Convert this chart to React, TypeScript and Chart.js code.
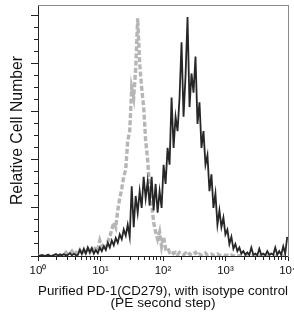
import React, { useEffect, useRef } from 'react';
import { Chart, registerables } from 'chart.js';

Chart.register(...registerables);

// Fluorescence intensity (PE) of each histogram channel
const intensity = [
  1.0, 1.076, 1.158, 1.246, 1.341, 1.443, 1.554, 1.672, 1.8, 1.937,
  2.084, 2.243, 2.414, 2.598, 2.796, 3.009, 3.239, 3.486, 3.752, 4.037,
  4.345, 4.676, 5.033, 5.417, 5.829, 6.274, 6.752, 7.267, 7.821, 8.417,
  9.058, 9.748, 10.49, 11.29, 12.15, 13.08, 14.07, 15.15, 16.3, 17.54,
  18.88, 20.32, 21.87, 23.53, 25.33, 27.26, 29.33, 31.57, 33.97, 36.56,
  39.35, 42.35, 45.57, 49.05, 52.78, 56.81, 61.14, 65.79, 70.81, 76.2,
  82.01, 88.26, 94.98, 102.2, 110.0, 118.4, 127.4, 137.1, 147.6, 158.9,
  171.0, 184.0, 198.0, 213.1, 229.4, 246.9, 265.7, 285.9, 307.7, 331.2,
  356.4, 383.6, 412.8, 444.3, 478.1, 514.5, 553.8, 596.0, 641.4, 690.3,
  742.9, 799.5, 860.4, 926.0, 996.8, 1073, 1154, 1243, 1337, 1439,
  1549, 1667, 1794, 1931, 2078, 2236, 2407, 2590, 2788, 3000,
  3229, 3475, 3740, 4025, 4332, 4662, 5017, 5400, 5811, 6254,
  6730, 7243, 7795, 8390, 9029, 9716,
];

// Purified PD-1 (CD279) stained cells, relative cell number
const pd1Stained = [
  0.3, 0, 0.4, 0.2, 0, 0.5, 0.2, 0, 0.4, 0.8,
  0.2, 0.6, 0.3, 0.8, 0.2, 0.5, 1.2, 0.3, 0.9, 0.4,
  0.5, 2.5, 0.8, 3, 1, 3.5, 1.5, 3.2, 1, 2.5,
  1.2, 3.5, 2, 4, 2.5, 5.5, 3.5, 6.5, 4.5, 7.5,
  5.5, 9, 7, 11, 8.5, 13, 8, 29, 12, 25,
  18, 27, 20, 33, 24, 31, 21, 33, 19, 30,
  18, 27, 20, 38, 30, 45, 38, 66, 45, 58,
  52, 66, 89, 58, 75, 99.5, 62, 76, 68, 83,
  55, 64, 45, 52, 38, 42, 27, 34, 20, 26,
  13, 19, 12, 16, 9, 11, 5, 8, 3, 5,
  2, 3.5, 1, 2, 0.5, 1.5, 0.5, 3.5, 0.5, 1,
  0.3, 3, 0.5, 1, 0.3, 2, 0.5, 1, 0.5, 3.5,
  0.5, 2, 0.5, 4, 1, 8,
];

// Isotype control, relative cell number
const isotypeControl = [
  0, 0.2, 0, 0.3, 0, 0.2, 0.5, 0.2, 0, 0.3,
  0.2, 0.5, 0.2, 0.5, 1.5, 0.5, 1, 2, 0.5, 1.5,
  1, 2.5, 1, 2, 1, 3, 1.5, 3, 2, 4,
  3, 6.5, 4, 5, 3.5, 6, 8, 11, 14, 12,
  19, 24, 28, 33, 36, 48, 52, 70, 66, 78,
  99, 80, 70, 62, 48, 40, 28, 22, 14, 10,
  7, 10, 4, 8, 3, 3.5, 1.5, 2, 1, 1.5,
  0.5, 1.5, 1, 0.5, 1.2, 0.4, 1, 0.3, 0.8, 1.5,
  0.3, 0.8, 0.2, 0.6, 1.2, 0.3, 0.5, 0.8, 0.2, 0.4,
  0.8, 0.2, 0.3, 0.6, 0.2, 0.3, 0.1, 0.4, 0, 0.2,
  0, 0.1, 0, 0.2, 0, 0, 0.1, 0, 0, 0.1,
  0, 0, 0.1, 0, 0, 0, 0, 0.1, 0, 0,
  0, 0, 0, 0, 0, 0,
];

const xDecades = [1, 10, 100, 1000, 10000];
const xDecadeLabels = ['10⁰', '10¹', '10²', '10³', '10⁴'];
const xMinorSteps = [1, 2, 3, 4, 5, 6, 7, 8, 9];
const yTickValues = [0, 5, 10, 15, 20, 25, 30, 35, 40, 45, 50, 55, 60, 65, 70, 75, 80, 85, 90, 95, 100];
const yMajorStep = 20;
const yTitle = 'Relative Cell Number';
const xTitle = ['Purified PD-1(CD279), with isotype control', '(PE second step)'];

const FONT = "'Liberation Sans', Arial, Helvetica, sans-serif";

export default function App() {
  const ref = useRef<HTMLCanvasElement>(null);

  useEffect(() => {
    const canvas = ref.current;
    if (!canvas) return;
    const xTickValues: number[] = [];
    xDecades.slice(0, -1).forEach((d) => xMinorSteps.forEach((s) => xTickValues.push(s * d)));
    xTickValues.push(xDecades[xDecades.length - 1]);

    const chart = new Chart(canvas, {
      type: 'line',
      data: {
        datasets: [
          {
            label: 'PD-1',
            data: intensity.map((x, i) => ({ x, y: pd1Stained[i] })),
            borderColor: '#262626',
            borderWidth: 1.8,
            pointRadius: 0,
            tension: 0,
            fill: false,
            order: 0,
          },
          {
            label: 'Isotype control',
            data: intensity.map((x, i) => ({ x, y: isotypeControl[i] })),
            borderColor: '#b6b6b6',
            borderWidth: 3.4,
            borderDash: [5, 2.2],
            pointRadius: 0,
            tension: 0,
            fill: false,
            order: 1,
          },
        ],
      },
      options: {
        responsive: false,
        animation: false,
        devicePixelRatio: 1,
        layout: { padding: { top: 5, right: 6, left: 0, bottom: 0 } },
        plugins: { legend: { display: false }, tooltip: { enabled: false } },
        scales: {
          x: {
            type: 'logarithmic',
            position: 'bottom',
            min: 1,
            max: 10000,
            afterBuildTicks: (s: any) => {
              s.ticks = xTickValues.map((v) => ({ value: v, major: xDecades.includes(v) }));
            },
            afterFit: (s: any) => {
              s.height = 60;
              s.paddingLeft = 0;
              s.paddingRight = 0;
            },
            ticks: {
              autoSkip: false,
              maxRotation: 0,
              minRotation: 0,
              padding: 3,
              color: '#111',
              font: { family: FONT, size: 11.5 },
              callback: (v: any) => {
                const i = xDecades.indexOf(Number(v));
                return i >= 0 ? xDecadeLabels[i] : '';
              },
            },
            grid: {
              display: true,
              drawOnChartArea: false,
              drawTicks: true,
              tickLength: 5,
              lineWidth: 1,
              tickWidth: 1,
              tickColor: '#222',
              tickBorderDash: (ctx: any) => (ctx.tick && ctx.tick.major ? [] : [3, 10]),
            },
            border: { display: true, color: '#222', width: 1 },
            title: {
              display: true,
              text: xTitle,
              color: '#111',
              font: { family: FONT, size: 13.7, lineHeight: 0.82 },
              padding: { top: 0, bottom: 7.5 },
            },
          },
          y: {
            type: 'linear',
            position: 'left',
            min: 0,
            max: 104.5,
            afterBuildTicks: (s: any) => {
              s.ticks = yTickValues.map((v) => ({ value: v, major: v % yMajorStep === 0 }));
            },
            afterFit: (s: any) => {
              s.width = 38;
            },
            ticks: { display: false },
            grid: {
              display: true,
              drawOnChartArea: false,
              drawTicks: true,
              tickLength: 7,
              lineWidth: 1,
              tickWidth: 1,
              tickColor: '#222',
              tickBorderDash: (ctx: any) => (ctx.tick && ctx.tick.major ? [] : [4, 3]),
              tickBorderDashOffset: (ctx: any) => (ctx.tick && ctx.tick.major ? 0 : 4),
            },
            border: { display: true, color: '#222', width: 1 },
            title: {
              display: true,
              text: yTitle,
              color: '#111',
              font: { family: FONT, size: 15.8, lineHeight: 1.2 },
              padding: { top: 8, bottom: 0 },
            },
          },
          xTop: {
            type: 'linear',
            position: 'top',
            min: 0,
            max: 1,
            display: true,
            ticks: { display: false },
            grid: { display: false, drawTicks: false },
            border: { display: true, color: '#8a8a8a', width: 1 },
            afterFit: (s: any) => {
              s.height = 0;
              s.paddingLeft = 0;
              s.paddingRight = 0;
            },
          },
          yRight: {
            type: 'linear',
            position: 'right',
            min: 0,
            max: 1,
            display: true,
            ticks: { display: false },
            grid: { display: false, drawTicks: false },
            border: { display: true, color: '#8a8a8a', width: 1 },
            afterFit: (s: any) => {
              s.width = 0;
            },
          },
        },
      } as any,
    });
    return () => chart.destroy();
  }, []);

  return (
    <div style={{ position: 'absolute', left: 0, top: 0, width: 294, height: 316, background: '#fff' }}>
      <canvas ref={ref} width={294} height={316} style={{ display: 'block', width: 294, height: 316 }} />
    </div>
  );
}
